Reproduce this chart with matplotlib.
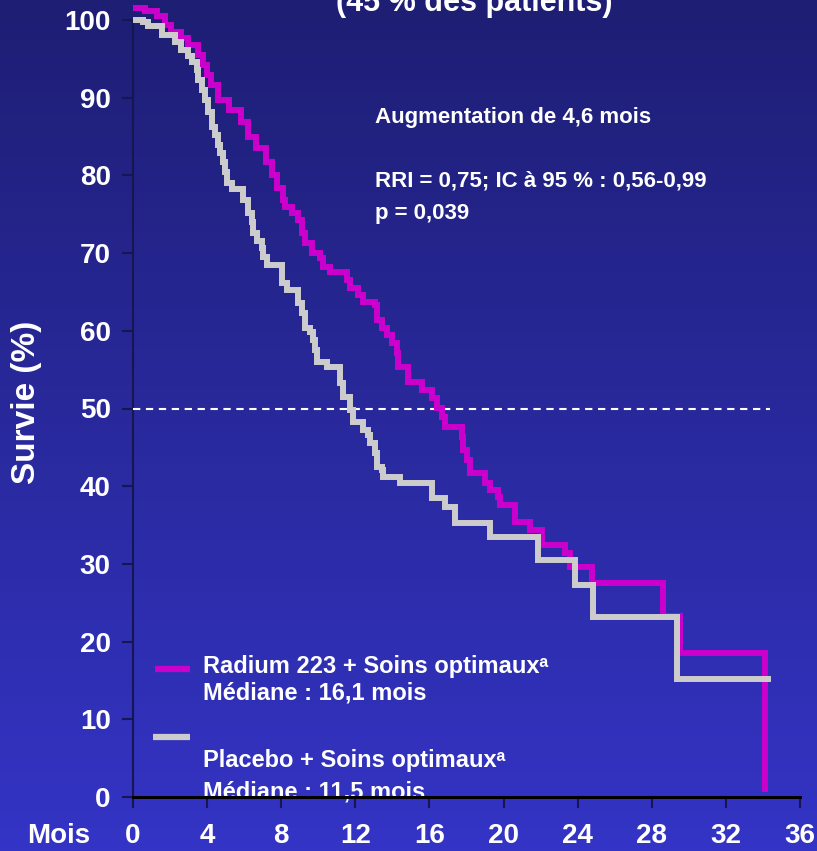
import numpy as np
import matplotlib
matplotlib.use("Agg")
import matplotlib.pyplot as plt
from matplotlib.colors import LinearSegmentedColormap

# ---------------- data ----------------
radium_t = [0, 0.65, 1.30, 1.73, 2.05, 2.59, 2.97, 3.51, 3.78, 4.00, 4.21, 4.59, 5.18,
            5.83, 6.21, 6.64, 7.18, 7.50, 7.77, 8.09, 8.20, 8.58, 8.90, 9.12, 9.28, 9.66,
            10.09, 10.25, 10.63, 11.55, 11.71, 12.14, 12.41, 13.06, 13.17, 13.44, 13.71,
            13.98, 14.25, 14.30, 14.84, 15.60, 16.14, 16.41, 16.68, 16.84, 17.76, 17.81,
            18.02, 18.19, 19.00, 19.27, 19.70, 19.81, 20.62, 21.42, 22.07, 23.32, 23.58,
            24.77, 28.60, 29.52, 34.11]
radium_s = [101.6, 101.2, 100.5, 99.4, 98.5, 97.7, 96.8, 95.5, 94.2, 92.9, 91.6, 89.7, 88.4,
            86.9, 84.9, 83.5, 81.7, 80.1, 78.4, 76.8, 75.9, 75.1, 74.2, 72.6, 71.3, 70.0,
            69.4, 68.2, 67.6, 66.5, 65.5, 64.6, 63.7, 63.3, 61.4, 60.4, 59.5,
            58.4, 57.1, 55.3, 53.4, 52.4, 51.4, 50.1, 48.9, 47.6, 46.3, 44.7,
            43.4, 41.7, 40.4, 39.5, 38.6, 37.6, 35.4, 34.4, 32.4, 31.4, 29.6,
            27.5, 23.3, 18.5, 0.6]

placebo_t = [0, 0.54, 0.81, 1.57, 2.27, 2.59, 2.97, 3.18, 3.45, 3.51, 3.72, 3.89, 4.05,
             4.26, 4.43, 4.59, 4.70, 4.86, 4.97, 5.07, 5.34, 5.94, 6.21, 6.42, 6.48, 6.69,
             6.96, 7.02, 7.23, 8.04, 8.31, 8.90, 9.12, 9.28, 9.55, 9.71, 9.82, 9.93, 10.47,
             11.17, 11.33, 11.71, 11.87, 12.41, 12.68, 12.79, 13.06, 13.17, 13.44, 13.49,
             14.41, 16.14, 16.84, 17.38, 19.27, 21.86, 23.85, 24.82, 29.36, 34.43]
placebo_s = [100.0, 99.7, 99.2, 98.1, 97.2, 96.1, 95.4, 94.6, 93.6, 92.3, 91.0, 89.7, 88.2,
             86.2, 85.2, 83.9, 82.9, 81.7, 80.4, 79.0, 78.3, 76.8, 75.2, 74.0, 72.6, 71.6,
             70.7, 69.5, 68.5, 66.2, 65.3, 63.6, 62.3, 60.4, 59.8, 58.8, 57.5, 56.0, 55.3,
             53.3, 51.5, 49.8, 48.3, 47.2, 46.6, 45.6, 44.3, 42.5, 42.1, 41.2,
             40.4, 38.5, 37.3, 35.3, 33.5, 30.5, 27.3, 23.2, 15.2, 15.2]

x_ticks = [0, 4, 8, 12, 16, 20, 24, 28, 32, 36]
y_ticks = [0, 10, 20, 30, 40, 50, 60, 70, 80, 90, 100]
median_line = 50
median_line_end = 34.4

title = "(45 % des patients)"
note1 = "Augmentation de 4,6 mois"
note2 = "RRI = 0,75; IC à 95 % : 0,56-0,99"
note3 = "p = 0,039"
leg1a = "Radium 223 + Soins optimaux\u1d43"
leg1b = "Médiane : 16,1 mois"
leg2a = "Placebo + Soins optimaux\u1d43"
leg2b = "Médiane : 11,5 mois"

# ---------------- style ----------------
FAM = ["Liberation Sans Narrow", "Liberation Sans", "DejaVu Sans"]
plt.rcParams["font.family"] = FAM
MAG = "#cc00cc"
GRY = "#cccccc"
W, H = 817, 851

def fx(px):
    return px / W

def fy(py):
    return 1 - py / H

fig = plt.figure(figsize=(W / 100, H / 100), dpi=100)

# gradient background
bg = fig.add_axes([0, 0, 1, 1], zorder=-10)
cmap = LinearSegmentedColormap.from_list("bg", ["#1e1e74", "#3434c6"])
grad = np.linspace(0, 1, 256).reshape(-1, 1)
bg.imshow(grad, aspect="auto", cmap=cmap, extent=[0, 1, 0, 1], origin="upper")
bg.set_axis_off()

ax = fig.add_axes([fx(133), fy(797), fx(800) - fx(133), fy(20) - fy(797)])
ax.set_facecolor("none")
ax.set_xlim(0, 36)
ax.set_ylim(0, 100)

ax.plot(radium_t, radium_s, drawstyle="steps-post", color=MAG, lw=4.3,
        solid_joinstyle="miter", solid_capstyle="butt", clip_on=False, zorder=4)
ax.plot(placebo_t, placebo_s, drawstyle="steps-post", color=GRY, lw=4.3,
        solid_joinstyle="miter", solid_capstyle="butt", clip_on=False, zorder=5)

ax.plot([0, median_line_end], [median_line, median_line], color="white", lw=1.5,
        linestyle=(0, (3.5, 2.7)), zorder=3)

for s in ["top", "right"]:
    ax.spines[s].set_visible(False)
ax.spines["left"].set_color("#161650")
ax.spines["left"].set_linewidth(1.5)
ax.spines["bottom"].set_color("#000000")
ax.spines["bottom"].set_linewidth(2.2)
ax.spines["bottom"].set_zorder(6)

ax.set_xticks(x_ticks)
ax.set_yticks(y_ticks)
ax.set_xticklabels([str(v) for v in x_ticks])
ax.set_yticklabels([str(v) for v in y_ticks])
ax.tick_params(axis="y", direction="out", length=8, width=1.5, color="#161650",
               labelcolor="white", labelsize=20, pad=8)
ax.tick_params(axis="x", direction="out", length=8, width=1.5, color="#161650",
               labelcolor="white", labelsize=20, pad=11)
for lab in ax.get_xticklabels() + ax.get_yticklabels():
    lab.set_fontweight("bold")

fig.text(fx(27), fy(402), "Survie (%)", rotation=90, ha="center", va="center",
         color="white", fontsize=24, fontweight="bold")
fig.text(fx(59), fy(836), "Mois", ha="center", va="center",
         color="white", fontsize=20, fontweight="bold")

fig.text(fx(474), fy(11), title, ha="center", va="baseline",
         color="white", fontsize=22, fontweight="bold")

fig.text(fx(375), fy(117), note1, ha="left", va="center", color="white",
         fontsize=16, fontweight="bold")
fig.text(fx(375), fy(181), note2, ha="left", va="center", color="white",
         fontsize=16, fontweight="bold")
fig.text(fx(375), fy(213), note3, ha="left", va="center", color="white",
         fontsize=16, fontweight="bold")

# legend
fig.add_artist(plt.Line2D([fx(155), fx(190)], [fy(669), fy(669)], color=MAG, lw=4.5,
                          solid_capstyle="butt"))
fig.add_artist(plt.Line2D([fx(153), fx(190)], [fy(737), fy(737)], color=GRY, lw=4.5,
                          solid_capstyle="butt"))
fig.text(fx(203), fy(667), leg1a, ha="left", va="center", color="white",
         fontsize=17, fontweight="bold")
fig.text(fx(203), fy(693), leg1b, ha="left", va="center", color="white",
         fontsize=17, fontweight="bold")
fig.text(fx(203), fy(760), leg2a, ha="left", va="center", color="white",
         fontsize=17, fontweight="bold")
ax.text(fx(203), fy(792), leg2b, transform=fig.transFigure, ha="left", va="center",
        color="white", fontsize=17, fontweight="bold", zorder=2)

fig.savefig("out.png", dpi=100)
